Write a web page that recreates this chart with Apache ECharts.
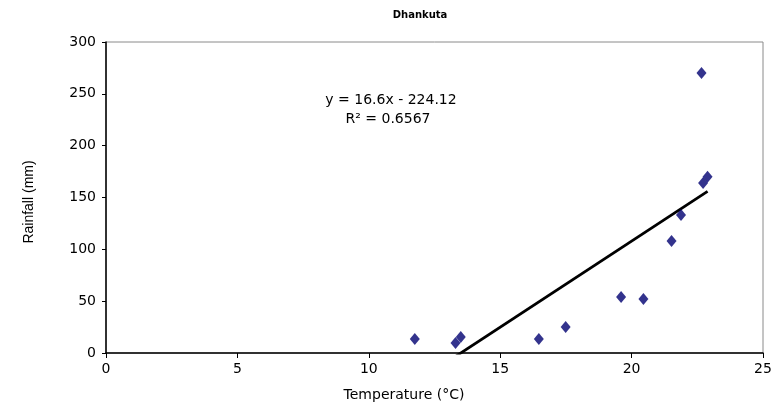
<!DOCTYPE html>
<html>
<head>
<meta charset="utf-8">
<script src="https://cdn.jsdelivr.net/npm/echarts@6/dist/echarts.min.js"></script>
<style>
  html, body { margin: 0; padding: 0; background: #fff; }
  #chart { width: 777px; height: 416px; }
</style>
</head>
<body>
<div id="chart"></div>
<script>
// Monthly mean temperature (°C) and rainfall (mm), Dhankuta
const temperature = [11.75, 13.3, 13.5, 16.47, 17.49, 19.6, 20.45, 21.52, 21.88, 22.66, 22.72, 22.89];
const rainfall    = [13.5, 9.6, 15.4, 13.5, 25, 54, 52, 108, 133, 270, 164, 170];

// Linear trendline as reported
const trendSlope = 16.6;
const trendIntercept = -224.12;
const trendText = ['y = 16.6x - 224.12', 'R² = 0.6567'];

const chartTitle = 'Dhankuta';
const xTitle = 'Temperature (°C)';
const yTitle = 'Rainfall (mm)';
const xTicks = [0, 5, 10, 15, 20, 25];
const yTicks = [0, 50, 100, 150, 200, 250, 300];

const points = temperature.map((t, i) => [t, rainfall[i]]);
const xMin = Math.min(...temperature);
const xMax = Math.max(...temperature);
const trendLine = [xMin, xMax].map(x => [x, trendSlope * x + trendIntercept]);

const wide = '"DejaVu Sans", Verdana, sans-serif';
const narrow = '"Liberation Sans", Arial, sans-serif';
const chart = echarts.init(document.getElementById('chart'), null, { renderer: 'canvas' });

chart.setOption({
  backgroundColor: '#ffffff',
  animation: false,
  grid: {
    left: 106, right: 14, top: 42, bottom: 63,
    show: true, borderColor: '#8a8a8a', borderWidth: 1, backgroundColor: '#fff'
  },
  xAxis: {
    type: 'value',
    min: xTicks[0], max: xTicks[xTicks.length - 1], interval: 5,
    axisLine: { show: true, onZero: false, lineStyle: { color: '#000', width: 1.5 } },
    axisTick: { show: true, inside: false, length: 5, lineStyle: { color: '#000' } },
    axisLabel: { fontFamily: wide, fontSize: 14, color: '#000', margin: 9 },
    splitLine: { show: false }
  },
  yAxis: {
    type: 'value',
    min: yTicks[0], max: yTicks[yTicks.length - 1], interval: 50,
    axisLine: { show: true, onZero: false, lineStyle: { color: '#000', width: 1.5 } },
    axisTick: { show: true, inside: false, length: 4, lineStyle: { color: '#000' } },
    axisLabel: { fontFamily: wide, fontSize: 14, color: '#000', margin: 10 },
    splitLine: { show: false }
  },
  graphic: [
    {
      type: 'text', x: 420, y: 15,
      style: { text: chartTitle, font: 'bold 10px ' + wide, fill: '#000',
               textAlign: 'center', textVerticalAlign: 'middle' }
    },
    {
      type: 'text', x: 404, y: 395,
      style: { text: xTitle, font: '14px ' + wide, fill: '#000',
               textAlign: 'center', textVerticalAlign: 'middle' }
    },
    {
      type: 'text', x: 29, y: 202, rotation: Math.PI / 2,
      style: { text: yTitle, font: '14px ' + narrow, fill: '#000',
               textAlign: 'center', textVerticalAlign: 'middle' }
    },
    {
      type: 'text', x: 391, y: 100,
      style: { text: trendText[0], font: '14px ' + wide, fill: '#000',
               textAlign: 'center', textVerticalAlign: 'middle' }
    },
    {
      type: 'text', x: 388, y: 119,
      style: { text: trendText[1], font: '14px ' + wide, fill: '#000',
               textAlign: 'center', textVerticalAlign: 'middle' }
    }
  ],
  series: [
    {
      type: 'line',
      data: trendLine,
      clip: true,
      symbol: 'none',
      lineStyle: { color: '#000', width: 2.8 },
      z: 2
    },
    {
      type: 'scatter',
      data: points,
      symbol: 'diamond',
      symbolSize: [10, 12],
      itemStyle: { color: '#000070' },
      z: 3
    }
  ]
});
</script>
</body>
</html>
